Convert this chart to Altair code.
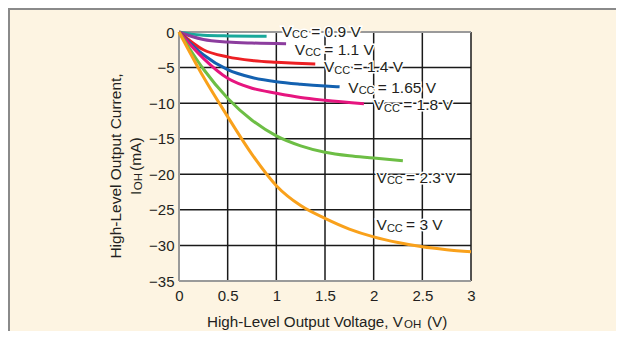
import altair as alt
import pandas as pd

FONT = "Liberation Sans"
TXT = "#231F20"

# ---- data: I_OH (mA) vs V_OH (V) for each supply voltage ----
vcc_09_v = [0, 0.125, 0.25, 0.5, 0.9]
vcc_09_i = [0, -0.3, -0.45, -0.55, -0.6]

vcc_11_v = [0, 0.125, 0.25, 0.5, 0.75, 1.1]
vcc_11_i = [0, -0.6, -1.05, -1.4, -1.55, -1.65]

vcc_14_v = [0, 0.25, 0.5, 0.75, 1.0, 1.2, 1.4]
vcc_14_i = [0, -2.5, -3.5, -4.0, -4.25, -4.4, -4.5]

vcc_165_v = [0, 0.25, 0.5, 0.75, 1.0, 1.25, 1.5, 1.65]
vcc_165_i = [0, -3.2, -5.3, -6.4, -7.0, -7.35, -7.6, -7.7]

vcc_18_v = [0, 0.25, 0.5, 0.75, 1.0, 1.25, 1.5, 1.9]
vcc_18_i = [0, -3.7, -6.5, -7.9, -8.6, -9.2, -9.6, -10.1]

vcc_23_v = [0, 0.25, 0.5, 0.75, 1.0, 1.25, 1.5, 1.75, 2.0, 2.3]
vcc_23_i = [0, -5.2, -9.3, -12.4, -14.6, -16.0, -16.9, -17.4, -17.7, -18.1]

vcc_3_v = [0, 0.25, 0.5, 0.75, 1.0, 1.25, 1.5, 1.75, 2.0, 2.25, 2.5, 2.75, 3.0]
vcc_3_i = [0, -6.3, -11.9, -17.2, -21.6, -24.4, -26.2, -27.7, -28.8, -29.6, -30.2, -30.6, -30.9]

series_names = ["0.9", "1.1", "1.4", "1.65", "1.8", "2.3", "3"]
series_colors = ["#19A89A", "#8C3D9E", "#ED2024", "#1361B0", "#E6157F", "#6DBE45", "#F9A11B"]
series_v = [vcc_09_v, vcc_11_v, vcc_14_v, vcc_165_v, vcc_18_v, vcc_23_v, vcc_3_v]
series_i = [vcc_09_i, vcc_11_i, vcc_14_i, vcc_165_i, vcc_18_i, vcc_23_i, vcc_3_i]

# label anchor points (data coords)
label_x = [1.055, 1.19, 1.49, 1.74, 2.0, 2.03, 2.03]
label_y = [-0.66, -3.23, -5.67, -8.53, -10.97, -21.2, -27.85]

x_ticks = [0, 0.5, 1, 1.5, 2, 2.5, 3]
y_ticks = [0, -5, -10, -15, -20, -25, -30, -35]

W, H = 292, 249

rows = []
for name, vs, cs in zip(series_names, series_v, series_i):
    for v, c in zip(vs, cs):
        rows.append({"vcc": name, "v": v, "i": c})
df = pd.DataFrame(rows)

lab = pd.DataFrame({
    "vcc": series_names,
    "x": label_x,
    "y": label_y,
    "rest": ["= " + n + " V" for n in series_names],
})
lab["V"] = "V"
lab["CC"] = "CC"

xs = alt.Scale(domain=[0, 3], nice=False)
ys = alt.Scale(domain=[-35, 0], nice=False)

x_axis = alt.Axis(values=x_ticks, title=None, grid=False, ticks=False, domain=False,
                  format="~g", labelFont=FONT, labelFontSize=15, labelColor=TXT,
                  labelPadding=7, labelFlush=False, labelOverlap=False)
y_axis = alt.Axis(values=y_ticks, title=None, grid=False, ticks=False, domain=False,
                  format="~g", labelFont=FONT, labelFontSize=15, labelColor=TXT,
                  labelPadding=5, labelFlush=False, labelOverlap=False)

GRID = "#1a1a1a"
grid_x = alt.Chart(pd.DataFrame({"t": x_ticks})).mark_rule(color=GRID, strokeWidth=1.5).encode(
    x=alt.X("t:Q", scale=xs, axis=x_axis))
grid_y = alt.Chart(pd.DataFrame({"t": y_ticks})).mark_rule(color=GRID, strokeWidth=1.5).encode(
    y=alt.Y("t:Q", scale=ys, axis=y_axis))

lines = alt.Chart(df).mark_line(strokeWidth=3, interpolate="monotone").encode(
    x=alt.X("v:Q", scale=xs, axis=x_axis),
    y=alt.Y("i:Q", scale=ys, axis=y_axis),
    color=alt.Color("vcc:N", scale=alt.Scale(domain=series_names, range=series_colors), legend=None),
    detail="vcc:N",
)

one = pd.DataFrame({"a": [0]})
frame_col = "#9a9a9a"
top_rule = alt.Chart(one).mark_rule(color=frame_col, strokeWidth=2).encode(
    x=alt.value(0), x2=alt.value(W), y=alt.value(0))
left_rule = alt.Chart(one).mark_rule(color=frame_col, strokeWidth=2).encode(
    x=alt.value(0), y=alt.value(0), y2=alt.value(H))
bottom_rule = alt.Chart(one).mark_rule(color=frame_col, strokeWidth=2).encode(
    x=alt.value(0), x2=alt.value(W), y=alt.value(H))
outer_left = alt.Chart(one).mark_rule(color="#8a8a8a", strokeWidth=2).encode(
    x=alt.value(-170), y=alt.value(-24), y2=alt.value(H + 60))
outer_top = alt.Chart(one).mark_rule(color="#8a8a8a", strokeWidth=2).encode(
    x=alt.value(-171), x2=alt.value(W + 150), y=alt.value(-23))


def lbl(field, dx, size, dy=0, halo=False):
    kw = dict(align="left", baseline="alphabetic", font=FONT, fontSize=size,
              dx=dx, dy=dy)
    if halo:
        kw.update(stroke="white", strokeWidth=3, color="white")
    else:
        kw.update(color=TXT)
    return alt.Chart(lab).mark_text(**kw).encode(
        x=alt.X("x:Q", scale=xs, axis=x_axis), y=alt.Y("y:Q", scale=ys, axis=y_axis), text=field)


labels = []
for halo in (True, False):
    labels += [lbl("V:N", 0, 15.5, halo=halo),
               lbl("CC:N", 10.3, 11, dy=1.5, halo=halo),
               lbl("rest:N", 29.5, 15.5, halo=halo)]


def ptext(txt, x, y, size, dx=0, dy=0, angle=0, align="left"):
    kw = dict(text=txt, align=align, baseline="alphabetic", font=FONT, fontSize=size,
              color=TXT, dx=dx, dy=dy)
    if angle:
        kw["angle"] = angle
    return alt.Chart(one).mark_text(**kw).encode(x=alt.value(x), y=alt.value(y))


# x axis title with subscript
XT_Y = 295
xt = [
    ptext("High-Level Output Voltage, V", 28, XT_Y, 15.2),
    ptext("OH", 28, XT_Y, 11.5, dx=197, dy=1),
    ptext("(V)", 28, XT_Y, 15.2, dx=220),
]
# y axis title (rotated)
yt = [
    ptext("High-Level Output Current,", -58, 134, 15.5, angle=270, align="center"),
    ptext("I", -38, 163, 15.5, angle=270),
    ptext("OH", -38, 163, 11.5, dx=4.8, dy=1, angle=270),
    ptext("(mA)", -38, 163, 15.5, dx=24, angle=270),
]

chart = alt.layer(
    grid_x, grid_y, top_rule, left_rule, bottom_rule, outer_left, outer_top,
    lines, *labels, *xt, *yt
).properties(
    width=W, height=H,
    autosize=alt.AutoSizeParams(type="none"),
    padding={"left": 171, "top": 24, "right": 145, "bottom": 50},
    background="#FDF4E2",
).configure_view(fill="white", stroke=None)

chart.save("out.html", embed_options={"renderer": "svg", "actions": False})
